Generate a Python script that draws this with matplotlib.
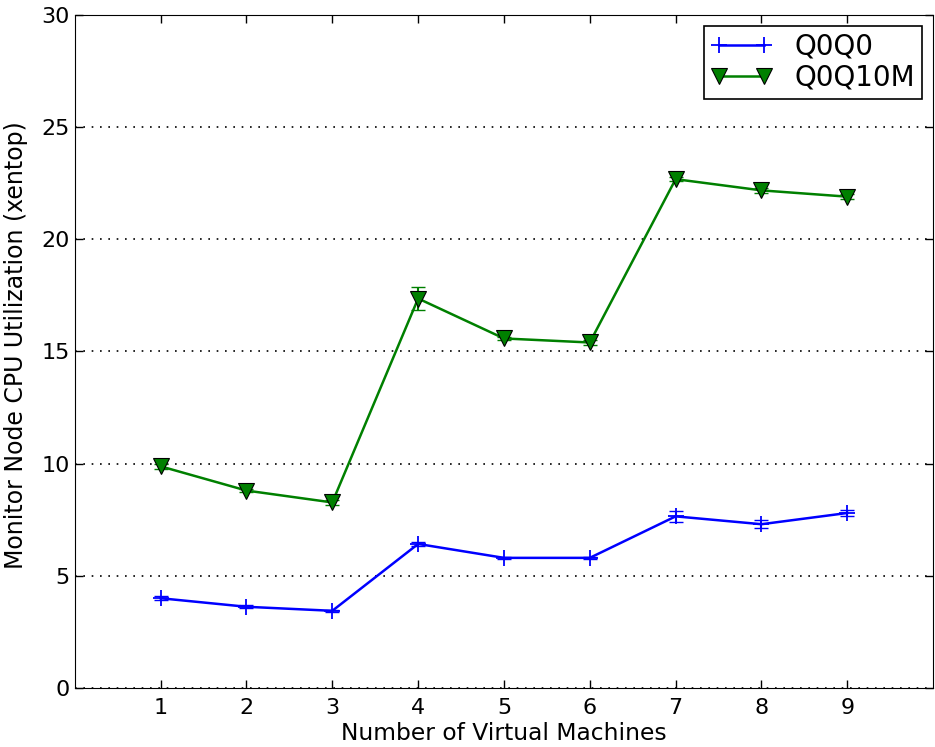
import matplotlib
matplotlib.use("Agg")
import matplotlib.pyplot as plt

vms = [1, 2, 3, 4, 5, 6, 7, 8, 9]
q0q0 = [4.0, 3.62, 3.44, 6.42, 5.80, 5.80, 7.65, 7.30, 7.80]
q0q0_err = [0.08, 0.06, 0.05, 0.1, 0.06, 0.06, 0.25, 0.18, 0.14]
q0q10m = [9.88, 8.80, 8.27, 17.36, 15.58, 15.40, 22.68, 22.18, 21.90]
q0q10m_err = [0.1, 0.08, 0.1, 0.52, 0.08, 0.1, 0.08, 0.1, 0.12]

plt.rcParams["font.size"] = 16
plt.rcParams["xtick.direction"] = "in"
plt.rcParams["ytick.direction"] = "in"
plt.rcParams["xtick.top"] = True
plt.rcParams["ytick.right"] = True

fig = plt.figure(figsize=(9.35, 7.47), dpi=100)
ax = fig.add_axes([0.080, 0.079, 0.918, 0.901])

# error bars first, then the lines with markers (legend uses the lines)
ax.errorbar(vms, q0q0, yerr=q0q0_err, fmt="none", ecolor="blue", capsize=5, elinewidth=1.5)
ax.errorbar(vms, q0q10m, yerr=q0q10m_err, fmt="none", ecolor="green", capsize=5, elinewidth=1.5)
ax.plot(vms, q0q0, color="blue", marker="+", markersize=12, markeredgewidth=1.3,
        linewidth=1.8, label="Q0Q0")
ax.plot(vms, q0q10m, color="green", marker="v", markersize=11,
        markeredgecolor="black", markeredgewidth=0.8, linewidth=1.8, label="Q0Q10M")

ax.set_xlim(0, 10)
ax.set_ylim(0, 30)
ax.set_xticks(vms)
ax.set_yticks([0, 5, 10, 15, 20, 25, 30])
ax.yaxis.grid(True, linestyle=(0, (1, 4)), color="black", linewidth=1.2)
ax.tick_params(length=6, width=1)
ax.tick_params(axis="x", pad=7)
ax.set_xlabel("Number of Virtual Machines", fontsize=16.8, labelpad=3)
ax.set_ylabel("Monitor Node CPU Utilization (xentop)", fontsize=17)
ax.yaxis.set_label_coords(-0.054, 0.51)

leg = ax.legend(loc="upper right", numpoints=2, fancybox=False, framealpha=1,
                edgecolor="black", fontsize=20, handlelength=2.2, borderaxespad=0.4,
                labelspacing=0.1, borderpad=0.25)
leg.get_frame().set_linewidth(1.2)

fig.savefig("out.png", dpi=100)
